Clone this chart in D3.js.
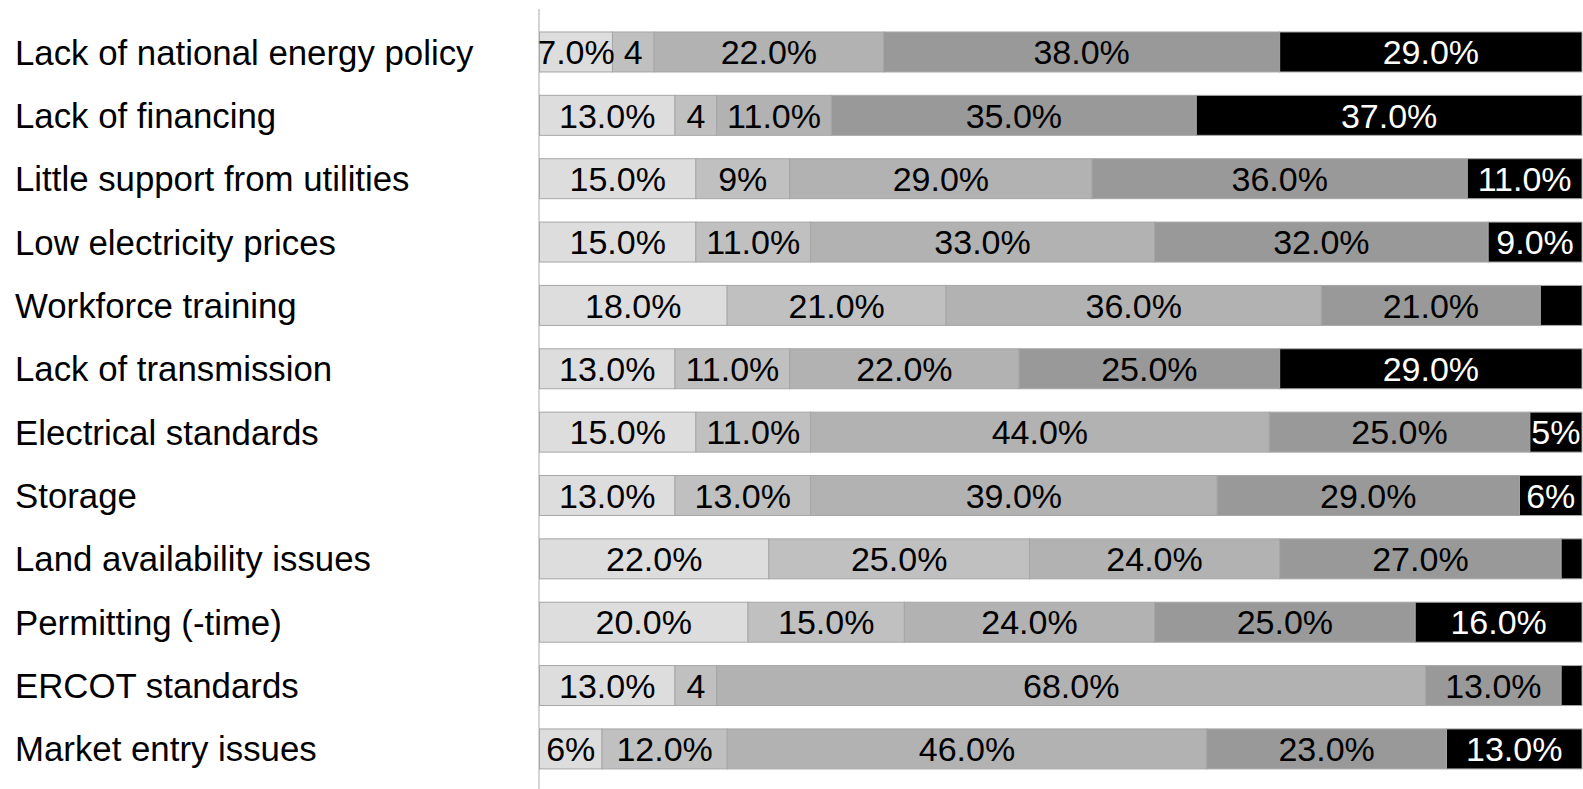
<!DOCTYPE html>
<html>
<head>
<meta charset="utf-8">
<script src="https://cdn.jsdelivr.net/npm/d3@7"></script>
<style>
  html, body { margin: 0; padding: 0; background: #fff; }
  svg { display: block; }
  text { font-family: "Liberation Sans", Arial, sans-serif; }
</style>
</head>
<body>
<svg id="chart" width="1583" height="789"></svg>
<script>
// Barriers, top to bottom
const categories = [
  "Lack of national energy policy",
  "Lack of financing",
  "Little support from utilities",
  "Low electricity prices",
  "Workforce training",
  "Lack of transmission",
  "Electrical standards",
  "Storage",
  "Land availability issues",
  "Permitting (-time)",
  "ERCOT standards",
  "Market entry issues"
];

// Share of responses (%) per rating level, lowest to highest
const level1 = [7, 13, 15, 15, 18, 13, 15, 13, 22, 20, 13, 6];
const level2 = [4, 4, 9, 11, 21, 11, 11, 13, 25, 15, 4, 12];
const level3 = [22, 11, 29, 33, 36, 22, 44, 39, 24, 24, 68, 46];
const level4 = [38, 35, 36, 32, 21, 25, 25, 29, 27, 25, 13, 23];
const level5 = [29, 37, 11, 9, 4, 29, 5, 6, 2, 16, 2, 13];

// How each segment's value label is written:
// "f" = one decimal with %, "p" = whole number with %, "n" = bare number, "" = no label
const labelFormats = [
  ["f", "n", "f", "f", "f"],
  ["f", "n", "f", "f", "f"],
  ["f", "p", "f", "f", "f"],
  ["f", "f", "f", "f", "f"],
  ["f", "f", "f", "f", ""],
  ["f", "f", "f", "f", "f"],
  ["f", "f", "f", "f", "p"],
  ["f", "f", "f", "f", "p"],
  ["f", "f", "f", "f", ""],
  ["f", "f", "f", "f", "f"],
  ["f", "n", "f", "f", ""],
  ["p", "f", "f", "f", "f"]
];

const levelKeys = ["l1", "l2", "l3", "l4", "l5"];
const levelColors = ["#dddddd", "#c0c0c0", "#b2b2b2", "#999999", "#000000"];
const levelText = ["#000", "#000", "#000", "#000", "#fff"];

const rows = categories.map((c, i) => ({
  category: c,
  l1: level1[i], l2: level2[i], l3: level3[i], l4: level4[i], l5: level5[i],
  formats: labelFormats[i]
}));

const svg = d3.select("#chart");
const width = 1583, height = 789;
const plotLeft = 539.5, plotRight = 1582;

const x = d3.scaleLinear().domain([0, 100]).range([plotLeft, plotRight]);
const y = d3.scaleBand()
  .domain(categories)
  .range([20.3, 780.6])
  .paddingInner(0.369)
  .paddingOuter(0.1845);

const stacked = d3.stack().keys(levelKeys)(rows);

function formatLabel(v, f) {
  if (f === "f") return d3.format(".1f")(v) + "%";
  if (f === "p") return d3.format("d")(v) + "%";
  if (f === "n") return d3.format("d")(v);
  return "";
}

// Stacked segments
const layers = svg.append("g").selectAll("g")
  .data(stacked)
  .join("g")
  .attr("fill", (d, i) => levelColors[i]);

layers.selectAll("rect")
  .data(d => d)
  .join("rect")
  .attr("x", d => x(d[0]))
  .attr("y", d => y(d.data.category))
  .attr("width", d => x(d[1]) - x(d[0]))
  .attr("height", y.bandwidth())
  .attr("stroke", "#a6a6a6")
  .attr("stroke-width", 1);

// Value labels centred in each segment
stacked.forEach((layer, li) => {
  svg.append("g").selectAll("text")
    .data(layer)
    .join("text")
    .attr("x", d => (x(d[0]) + x(d[1])) / 2)
    .attr("y", d => y(d.data.category) + y.bandwidth() / 2)
    .attr("dy", "0.36em")
    .attr("text-anchor", "middle")
    .attr("font-size", 34)
    .attr("fill", levelText[li])
    .text(d => formatLabel(d[1] - d[0], d.data.formats[li]));
});

// Category axis line and labels
svg.append("line")
  .attr("x1", plotLeft - 0.5).attr("x2", plotLeft - 0.5)
  .attr("y1", 9).attr("y2", height)
  .attr("stroke", "#aaaaaa")
  .attr("stroke-width", 1);

svg.append("g").selectAll("text")
  .data(categories)
  .join("text")
  .attr("x", 15)
  .attr("y", d => y(d) + y.bandwidth() / 2)
  .attr("dy", "0.36em")
  .attr("font-size", 34.8)
  .attr("fill", "#000")
  .text(d => d);
</script>
</body>
</html>
